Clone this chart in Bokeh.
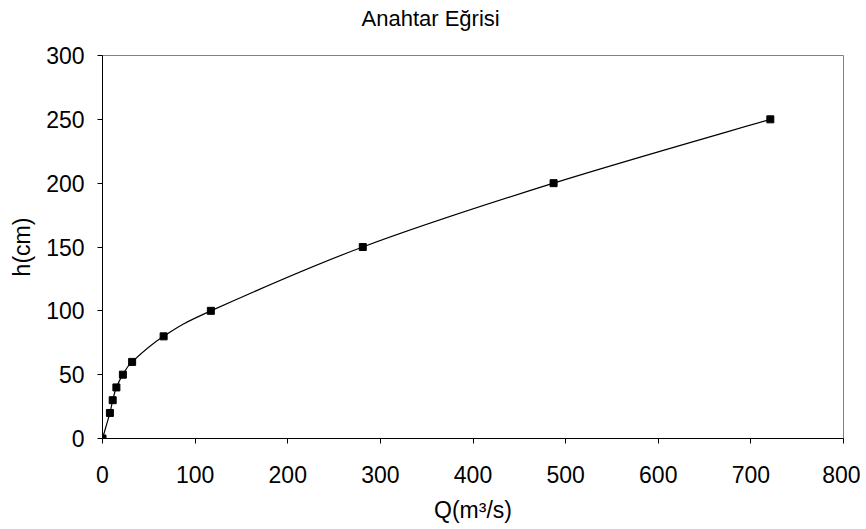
from bokeh.plotting import figure
from bokeh.models import Range1d, FixedTicker, Title
from bokeh.embed import file_html
from bokeh.resources import INLINE

# Data (discharge Q in m3/s, stage h in cm)
Q = [0, 8, 11, 15, 22, 32, 66, 117, 281, 487, 721]
h = [0, 20, 30, 40, 50, 60, 80, 100, 150, 200, 250]
x_ticks = [0, 100, 200, 300, 400, 500, 600, 700, 800]
y_ticks = [0, 50, 100, 150, 200, 250, 300]
title_text = "Anahtar Eğrisi"
x_label = "Q(m³/s)"
y_label = "h(cm)"

FONT = "Liberation Sans"

p = figure(width=860, height=525, output_backend="svg", toolbar_location=None,
           x_range=Range1d(0, 800), y_range=Range1d(0, 300),
           min_border_left=102, min_border_right=17, min_border_top=55, min_border_bottom=87)

# empty spacer between the title and the plot area
spacer = Title(text=" ", text_font=FONT, text_font_size="1px", standoff=22)
p.add_layout(spacer, "above")
t = Title(text=title_text, align="left", offset=259, text_font=FONT,
          text_font_size="22px", text_font_style="normal", text_color="black",
          standoff=0)
p.add_layout(t, "above")

# smoothed curve (Catmull-Rom -> cubic Bezier through the data points)
n = len(Q)
x0s, y0s, x1s, y1s, cx0, cy0, cx1, cy1 = [], [], [], [], [], [], [], []
for i in range(n - 1):
    pm = (Q[max(i - 1, 0)], h[max(i - 1, 0)])
    p0 = (Q[i], h[i])
    p1 = (Q[i + 1], h[i + 1])
    p2 = (Q[min(i + 2, n - 1)], h[min(i + 2, n - 1)])
    x0s.append(p0[0]); y0s.append(p0[1]); x1s.append(p1[0]); y1s.append(p1[1])
    cx0.append(p0[0] + (p1[0] - pm[0]) / 6); cy0.append(p0[1] + (p1[1] - pm[1]) / 6)
    cx1.append(p1[0] - (p2[0] - p0[0]) / 6); cy1.append(p1[1] - (p2[1] - p0[1]) / 6)
p.bezier(x0=x0s, y0=y0s, x1=x1s, y1=y1s, cx0=cx0, cy0=cy0, cx1=cx1, cy1=cy1,
         line_color="black", line_width=1.2)
p.scatter(Q, h, marker="square", size=7, fill_color="black", line_color="black")

p.xgrid.visible = False
p.ygrid.visible = False
p.outline_line_color = "#808080"
p.outline_line_width = 1
p.background_fill_color = "white"
p.border_fill_color = "white"

for ax in (p.xaxis[0], p.yaxis[0]):
    ax.axis_line_color = "black"
    ax.axis_line_width = 1
    ax.major_tick_line_color = "black"
    ax.major_tick_out = 5
    ax.major_tick_in = 0
    ax.minor_tick_line_color = None
    ax.major_label_text_font = FONT
    ax.major_label_text_font_size = "23px"
    ax.major_label_text_color = "black"
    ax.axis_label_text_font = FONT
    ax.axis_label_text_font_size = "23px"
    ax.axis_label_text_font_style = "normal"
    ax.axis_label_text_color = "black"

p.xaxis.ticker = FixedTicker(ticks=x_ticks)
p.yaxis.ticker = FixedTicker(ticks=y_ticks)
p.xaxis.axis_label = x_label
p.yaxis.axis_label = y_label
p.xaxis.major_label_standoff = 22
p.yaxis.major_label_standoff = 13
p.xaxis.axis_label_standoff = 11
p.yaxis.axis_label_standoff = 8

open("out.html", "w").write(file_html(p, INLINE))
